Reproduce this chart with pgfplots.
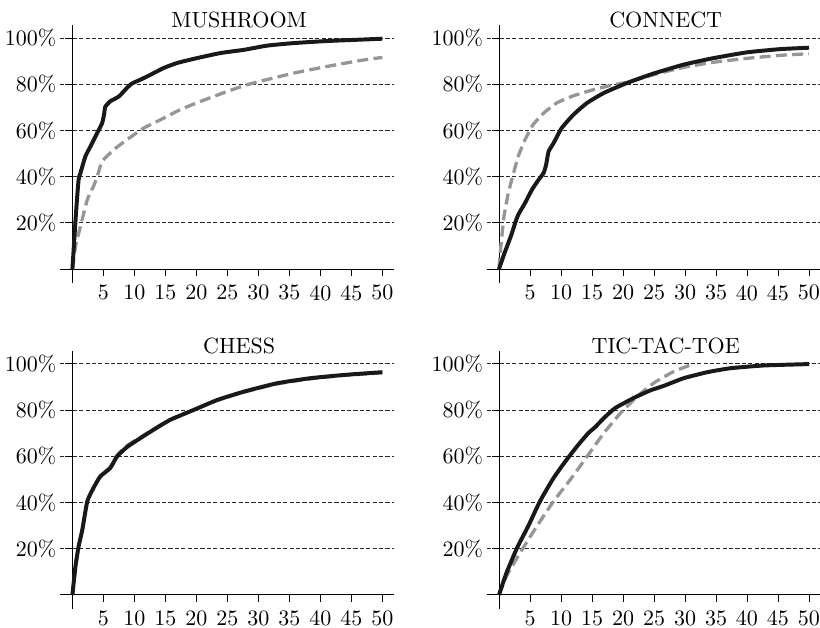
\documentclass[border=0pt]{standalone}
\usepackage{pgfplots}
\pgfplotsset{compat=1.18}
\usepgfplotslibrary{groupplots}
\definecolor{blk}{RGB}{25,25,25}
\definecolor{gry}{RGB}{150,150,150}
\begin{document}
\begin{tikzpicture}
\pgfplotsset{
  every axis title shift=0pt,
  every axis/.append style={
    scale only axis, width=151.6pt, height=117.2pt,
    axis lines=middle, axis line style={-, line width=0.42pt, black},
    xmin=-2, xmax=51.8, ymin=-6, ymax=105.6,
    xtick={5,10,...,50}, ytick={20,40,60,80,100},
    tick align=outside, major tick length=3.3pt,
    tick style={line width=0.42pt, black},
    yticklabel={\pgfmathprintnumber{\tick}\%},
    /pgf/number format/assume math mode=true,
    tick label style={font=\normalsize},
    xticklabel style={yshift=-0.5pt},
    yticklabel style={xshift=-0.5pt},
    every axis label/.append style={inner sep=0pt, outer sep=0pt},
    ymajorgrids, grid style={dash pattern=on 1.9pt off 1.0pt, line width=0.36pt, black!85},
    title style={at={(0.537,0.990)}, anchor=base, yshift=0pt, font=\normalsize},
    clip=false,
  },
  blkline/.style={blk, line width=1.8pt, smooth, tension=0.3, line join=round},
  gryline/.style={gry, line width=1.5pt, dash pattern=on 5pt off 2.4pt, smooth, tension=0.3},
}
\begin{groupplot}[group style={group size=2 by 2, horizontal sep=42.3pt, vertical sep=30.9pt}]
\nextgroupplot[title={MUSHROOM}]
\addplot[gryline] coordinates {(0,0) (0.5,9.8) (1.3,18.5) (2.4,30) (3.4,35.8) (4.0,40) (4.8,46.6) (6.7,51.7) (8.8,56) (11.5,61) (14.2,64.6) (17.4,69) (20.7,72.6) (25,76.9) (28.2,79.8) (31.4,82) (35.7,84.8) (41.1,87.7) (46.5,90.3) (50,91.6)};
\addplot[blkline] coordinates {(0,0) (0.6,25) (1.0,38.7) (1.3,41.6) (2.1,48.8) (2.9,53) (4.0,58.9) (4.8,63.2) (5.1,66.8) (5.3,70.2) (6.1,72.6) (7.5,74.7) (8.8,78.4) (9.6,80.3) (11,82) (12.6,84.1) (14.7,87) (16.9,89.2) (20.1,91.3) (23.9,93.5) (27.7,94.9) (31.4,96.7) (35.7,97.8) (41.1,98.7) (46.5,99.3) (50,99.7)};
\nextgroupplot[title={CONNECT}]
\addplot[gryline] coordinates {(0,0) (0.3,9.8) (0.8,22.8) (1.5,32.9) (2.2,40.1) (3.1,48.8) (4.2,56) (5.5,62.5) (7.2,67.5) (9.3,71.9) (12,75) (15.2,77.6) (18.5,79.8) (20.6,80.8) (24.9,84.1) (29.8,87.3) (34.6,89.5) (40,91.2) (45.4,92.5) (50,93.2)};
\addplot[blkline] coordinates {(0,0) (0.7,5.5) (1.5,11.3) (2.0,14.9) (2.6,19.9) (3.1,23.5) (4.2,28.6) (5.3,34.3) (6.4,38.7) (7.2,41.6) (7.6,45.2) (8.0,50.9) (8.8,54.5) (10.1,61) (12.0,66.8) (14.2,71.9) (16.9,76.2) (20.6,80.5) (24.9,84.6) (29.8,88.5) (34.6,91.3) (40,93.8) (45.4,95.2) (50,95.8)};
\nextgroupplot[title={CHESS}]
\addplot[gryline] coordinates {(0,0) (0.5,12.4) (1.0,21) (1.6,28.2) (2.4,40.5) (3.4,46.3) (4.5,51.3) (6.1,55.3) (7.2,60.4) (8.8,64.6) (11,68.3) (13.1,71.7) (15.8,75.9) (19.6,80.1) (23.4,84.2) (27.7,87.8) (33,91.3) (38.4,93.5) (43.8,95) (50,96.1)};
\addplot[blkline] coordinates {(0,0) (0.5,12.4) (1.0,21) (1.6,28.2) (2.4,40.5) (3.4,46.3) (4.5,51.3) (6.1,54.9) (7.2,59.9) (8.8,64) (11,67.9) (13.1,71.5) (15.8,75.8) (19.6,80.1) (23.4,84.4) (27.7,88) (33,91.6) (38.4,93.8) (43.8,95.2) (50,96.4)};
\nextgroupplot[title={TIC-TAC-TOE}]
\addplot[gryline] coordinates {(0,0) (1.2,8.1) (3.4,18.2) (6.1,29.7) (8.8,40.5) (11.5,49.9) (14.2,59.9) (16.9,70) (19.6,78.7) (22.3,85.9) (24.9,91.6) (28.2,96.7) (31.4,100)};
\addplot[blkline] coordinates {(0,0) (1.2,9.5) (2.9,20.3) (4.7,29.7) (6.6,40.5) (8.8,50.6) (10.9,58.5) (12.8,65) (14.4,70) (15.5,72.6) (16.9,76.5) (18.7,80.8) (21.7,85.2) (24.4,88.5) (26.6,90.5) (29.8,93.8) (33.6,96.4) (37.3,98.1) (42.7,99.3) (50,99.9)};
\end{groupplot}
\pgfresetboundingbox
\path[use as bounding box] (group c1r1.south west) ++(-27.27pt,-156.8pt) rectangle ++(372.7pt,285.4pt);
\end{tikzpicture}
\end{document}
